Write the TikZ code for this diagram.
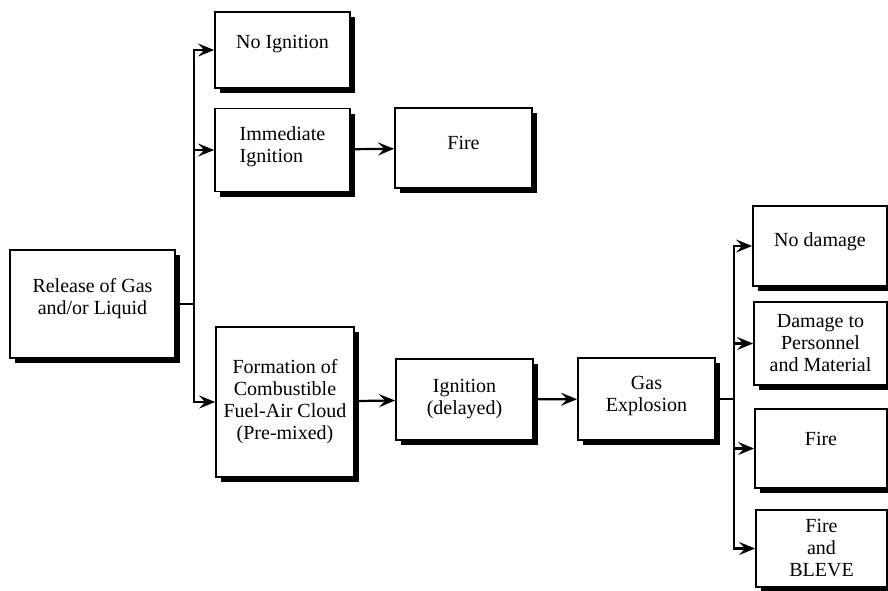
\documentclass[tikz,border=0pt]{standalone}
\usepackage{fontspec}
\setmainfont{Liberation Serif}
\usetikzlibrary{positioning, arrows.meta, calc, shadows}

\begin{document}
\begin{tikzpicture}[x=1pt, y=-1pt, font=\fontsize{20}{22}\selectfont,
  box/.style={draw, line width=1.8pt, fill=white, align=center, inner sep=2pt,
    drop shadow={shadow xshift=5pt, shadow yshift=-5pt, fill=black, opacity=1}},
  ln/.style={line width=2.2pt},
  arr/.style={ln, -{Stealth[length=16pt, width=13pt, inset=6pt]}}]
  \useasboundingbox (0,0) rectangle (888,590);
  % left part
  \node[box, minimum width=165pt, minimum height=108pt] (rel) at (92.5,304) {Release of Gas\\ and/or Liquid\\[-6pt]};
  \node[box, minimum width=135pt, minimum height=76pt] (ni) at (282.5,50) {No Ignition\\[-6pt]};
  \node[box, minimum width=135pt, minimum height=83pt, align=left] (ii) at (282.5,150) {Immediate\\ Ignition\\[-12pt]};
  \node[box, minimum width=137pt, minimum height=80pt] (fire) at (463.5,148) {Fire\\[-12pt]};
  \node[box, minimum width=138pt, minimum height=150pt] (cloud) at (285,402) {Formation of\\ Combustible\\ Fuel-Air Cloud\\ (Pre-mixed)};
  \node[box, minimum width=137pt, minimum height=81pt] (ign) at (464.5,399.5) {Ignition\\ (delayed)};
  \node[box, minimum width=137pt, minimum height=82pt] (gas) at (646.5,399) {Gas\\ Explosion\\[-12pt]};
  % outcomes
  \node[box, minimum width=134pt, minimum height=80pt] (nodmg) at (820,246) {No damage\\[-10pt]};
  \node[box, minimum width=133pt, minimum height=83pt] (dmg) at (820.5,343.5) {Damage to\\ Personnel\\ and Material};
  \node[box, minimum width=132pt, minimum height=79pt] (fire2) at (821,448.5) {Fire\\[-2pt]};
  \node[box, minimum width=131pt, minimum height=77pt] (bleve) at (821.5,548.5) {Fire\\ and\\ BLEVE};

  \draw[ln] (rel.east) -- ++(18,0) coordinate (j1);
  \draw[arr] (j1) |- (ni.west);
  \draw[arr] (j1) |- (ii.west);
  \draw[arr] (j1) |- (cloud.west);
  \draw[arr] (ii) -- (fire);
  \draw[arr] (cloud) -- (ign);
  \draw[arr] (ign) -- (gas);
  \draw[ln] (gas.east) -- ++(18,0) coordinate (j2);
  \draw[arr] (j2) |- (nodmg.west);
  \draw[arr] (j2) |- (dmg.west);
  \draw[arr] (j2) |- (fire2.west);
  \draw[arr] (j2) |- (bleve.west);
\end{tikzpicture}
\end{document}
